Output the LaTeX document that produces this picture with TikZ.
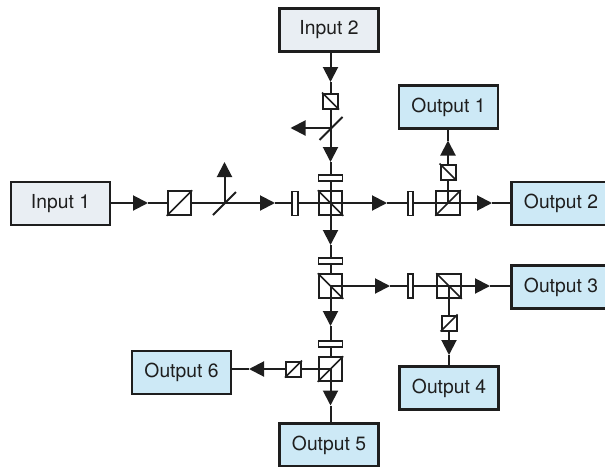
\documentclass[tikz,border=0pt]{standalone}
\usepackage{fontspec}
\setmainfont{TeX Gyre Heros}
\usetikzlibrary{arrows.meta}
\definecolor{ink}{HTML}{1E1E1E}
\definecolor{inbox}{HTML}{E9EEF3}
\definecolor{outbox}{HTML}{CDE9F6}
\tikzset{
  x=1pt,y=-1pt,
  box/.style={draw=ink,line width=2.2pt,minimum width=99pt,minimum height=43pt,inner sep=0pt,font=\fontsize{19.3}{21}\selectfont,text=ink},
  inp/.style={box,fill=inbox},
  outp/.style={box,fill=outbox},
  cube/.style={draw=ink,line width=2pt,fill=white,minimum size=23.5pt,inner sep=0pt},
  minicube/.style={draw=ink,line width=2pt,fill=white,minimum size=15pt,inner sep=0pt},
  plate/.style={draw=ink,line width=1.8pt,fill=white,inner sep=0pt},
  hplate/.style={plate,minimum width=24pt,minimum height=5.5pt},
  vplate/.style={plate,minimum width=5.5pt,minimum height=24pt},
  ray/.style={draw=ink,line width=2pt},
  beam/.style={ray,-{Triangle[length=15pt,width=15pt,color=ink]}},
  fineline/.style={draw=ink,line width=1.6pt},
  mirror/.style={draw=ink,line width=2pt},
}
\begin{document}
\begin{tikzpicture}
\useasboundingbox (0,0) rectangle (605,466);
% junction coordinates
\coordinate (m1) at (224.5,203);
\coordinate (m2) at (330.5,128);
\coordinate (m1a) at (213,215);\coordinate (m1b) at (236,192);
\coordinate (m2a) at (319.5,140);\coordinate (m2b) at (342.5,117);
% arrow tips
\coordinate (a1) at (148,203);
\coordinate (a2) at (275,203);
\coordinate (a3) at (224.5,162);
\coordinate (a4) at (330.5,82);
\coordinate (a5) at (330.5,162);
\coordinate (a6) at (290.5,128);
\coordinate (a7) at (387,203);
\coordinate (a8) at (492,203);
\coordinate (a9) at (448,140.5);
\coordinate (a10) at (330.5,245);
\coordinate (a11) at (390,286);
\coordinate (a12) at (490,286);
\coordinate (a13) at (449,355);
\coordinate (a14) at (330.5,326);
\coordinate (a15) at (330.5,405.5);
\coordinate (a16) at (249,369);
% boxes
\node[inp] (in1) at (60.5,203.5) {Input 1};
\node[inp] (in2) at (329,30) {Input 2};
\node[outp] (o1) at (448.5,107) {Output 1};
\node[outp] (o2) at (561,203.5) {Output 2};
\node[outp] (o3) at (561,287) {Output 3};
\node[outp] (o4) at (449,388) {Output 4};
\node[outp] (o5) at (329,445) {Output 5};
\node[outp] (o6) at (181.5,372.5) {Output 6};
% rays (drawn first, so that the elements lie on top)
\draw[beam] (in1.east |- a1) -- (a1);
\draw[ray] (a1) -- (m1);
\draw[beam] (m1) -- (a2);
\draw[ray] (a2) -- (330.5,203);
\draw[beam] (m1) -- (a3);
\draw[beam] (in2.south -| a4) -- (a4);
\draw[ray] (a4) -- (m2);
\draw[beam] (m2) -- (a5);
\draw[ray] (a5) -- (330.5,203);
\draw[beam] (m2) -- (a6);
\draw[beam] (330.5,203) -- (a7);
\draw[ray] (a7) -- (448,203);
\draw[beam] (448,203) -- (a8);
\draw[ray] (a8) -- (o2.west |- a8);
\draw[beam] (448,203) -- (a9);
\draw[ray] (a9) -- (a9 |- o1.south);
\draw[beam] (330.5,203) -- (a10);
\draw[ray] (a10) -- (330.5,286);
\draw[beam] (330.5,286) -- (a11);
\draw[ray] (a11) -- (449,286);
\draw[beam] (449,286) -- (a12);
\draw[ray] (a12) -- (o3.west |- a12);
\draw[beam] (449,286) -- (a13);
\draw[ray] (a13) -- (a13 |- o4.north);
\draw[beam] (330.5,286) -- (a14);
\draw[ray] (a14) -- (330.5,369);
\draw[beam] (330.5,369) -- (a15);
\draw[ray] (a15) -- (a15 |- o5.north);
\draw[beam] (330.5,369) -- (a16);
\draw[ray] (a16) -- (o6.east |- a16);
\draw[mirror] (m1a) -- (m1b);
\draw[mirror] (m2a) -- (m2b);
% elements
\node[cube] (c1) at (179.5,203) {};
\draw[fineline] (c1.south west) -- (c1.north east);
\node[vplate] (p1) at (295,203.5) {};
\node[hplate] (p2) at (330.5,178) {};
\node[vplate] (p3) at (410.5,203.5) {};
\node[hplate] (p4) at (330.5,261) {};
\node[vplate] (p5) at (410.5,286) {};
\node[hplate] (p6) at (330.5,344) {};
\node[cube] (c2) at (330.5,203) {};
\draw[ray] (c2.west) -- (c2.east) (c2.north) -- (c2.south);
\draw[fineline] (c2.north west) -- (c2.south east);
\node[cube] (c3) at (448,203) {};
\draw[ray] (c3.west) -- (c3.east) (c3.north) -- (c3.center);
\draw[fineline] (c3.south west) -- (c3.north east);
\node[cube] (c4) at (330.5,286) {};
\draw[ray] (c4.center) -- (c4.east) (c4.center) -- (c4.south);
\draw[fineline] (c4.north west) -- (c4.south east);
\node[cube] (c5) at (449,286) {};
\draw[ray] (c5.west) -- (c5.east) (c5.center) -- (c5.south);
\draw[fineline] (c5.north west) -- (c5.south east);
\node[cube] (c6) at (330.5,369) {};
\draw[ray] (c6.west) -- (c6.center) (c6.center) -- (c6.south);
\draw[fineline] (c6.south west) -- (c6.north east);
\node[minicube] (s1) at (330.5,101) {};
\draw[fineline] (s1.north west) -- (s1.south east);
\node[minicube] (s2) at (448,172) {};
\draw[fineline] (s2.north west) -- (s2.south east);
\node[minicube] (s3) at (449,323) {};
\draw[fineline] (s3.south west) -- (s3.north east);
\node[minicube] (s4) at (293.5,369) {};
\draw[fineline] (s4.south west) -- (s4.north east);
\end{tikzpicture}
\end{document}
